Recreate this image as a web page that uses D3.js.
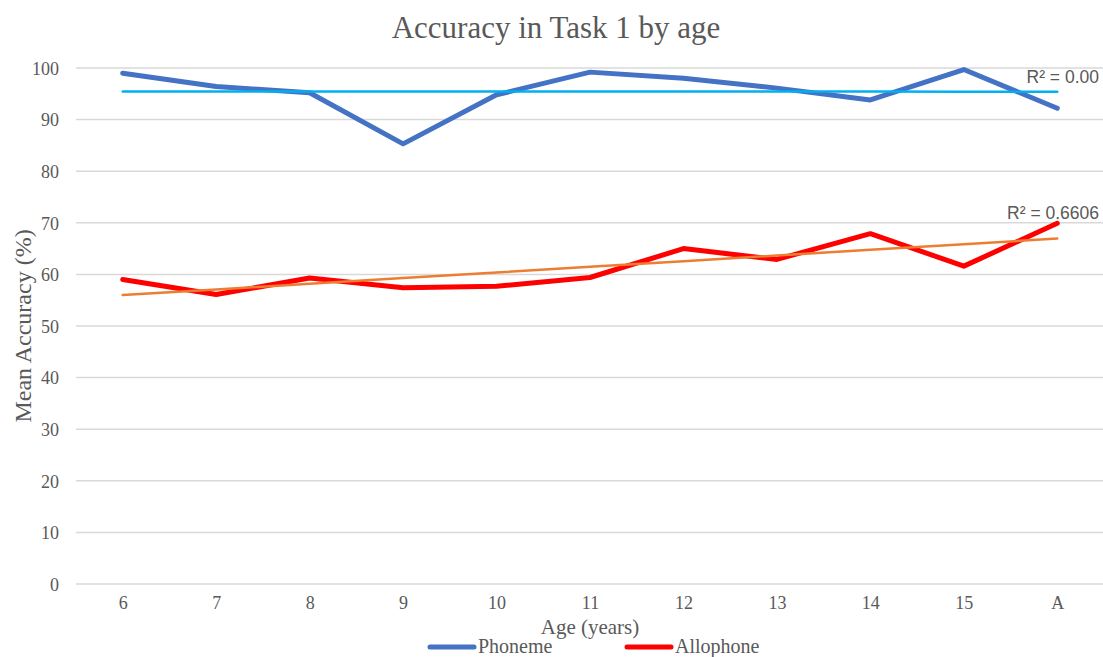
<!DOCTYPE html>
<html>
<head>
<meta charset="utf-8">
<script src="https://cdn.jsdelivr.net/npm/d3@7"></script>
<style>
  html, body { margin: 0; padding: 0; background: #fff; }
  svg { display: block; }
</style>
</head>
<body>
<svg id="chart" width="1103" height="657"></svg>
<script>
// Age groups (A = adults)
const ages = ["6", "7", "8", "9", "10", "11", "12", "13", "14", "15", "A"];
// Mean accuracy (%) per age group
const phoneme   = [99.0, 96.4, 95.2, 85.3, 94.8, 99.2, 98.0, 96.1, 93.8, 99.7, 92.2];
const allophone = [59.0, 56.1, 59.3, 57.4, 57.7, 59.4, 65.0, 62.9, 67.9, 61.6, 69.9];
const yTicks = [0, 10, 20, 30, 40, 50, 60, 70, 80, 90, 100];
const seriesNames = ["Phoneme", "Allophone"];
const r2Labels = ["R² = 0.00", "R² = 0.6606"];

(function draw() {
  const svg = d3.select("#chart");
  const plotLeft = 76, plotRight = 1104, plotTop = 68, plotBottom = 584;
  const grey = "#595959";
  const serif = "'Liberation Serif', 'Times New Roman', serif";
  const sans = "'Liberation Sans', Arial, sans-serif";

  const x = d3.scalePoint().domain(ages).range([plotLeft, plotRight]).padding(0.5);
  const y = d3.scaleLinear().domain([0, 100]).range([plotBottom, plotTop]);

  // Horizontal gridlines
  svg.append("g")
    .selectAll("line")
    .data(yTicks)
    .join("line")
    .attr("x1", plotLeft).attr("x2", plotRight)
    .attr("y1", d => y(d)).attr("y2", d => y(d))
    .attr("stroke", "#d9d9d9").attr("stroke-width", 1.5);

  // Y axis labels
  const yAxis = d3.axisLeft(y).tickValues(yTicks).tickSize(0).tickPadding(0);
  const gy = svg.append("g").attr("transform", `translate(${plotLeft - 17},0)`).call(yAxis);
  gy.select(".domain").remove();
  gy.selectAll("text")
    .attr("font-family", serif).attr("font-size", 18).attr("fill", grey)
    .attr("dy", "0.35em");

  // X axis labels
  const xAxis = d3.axisBottom(x).tickSize(0).tickPadding(0);
  const gx = svg.append("g").attr("transform", `translate(0,${plotBottom + 12})`).call(xAxis);
  gx.select(".domain").remove();
  gx.selectAll("text")
    .attr("font-family", serif).attr("font-size", 18).attr("fill", grey)
    .attr("dy", "0.71em");

  // Least-squares trend line over the category index
  function linearFit(vals) {
    const n = vals.length;
    const xs = d3.range(n);
    const mx = d3.mean(xs), my = d3.mean(vals);
    let sxy = 0, sxx = 0;
    xs.forEach((xi, i) => { sxy += (xi - mx) * (vals[i] - my); sxx += (xi - mx) ** 2; });
    const slope = sxy / sxx;
    const intercept = my - slope * mx;
    return xs.map(xi => intercept + slope * xi);
  }

  const line = d3.line()
    .x((d, i) => x(ages[i]))
    .y(d => y(d));

  const series = [
    { name: seriesNames[0], values: phoneme, color: "#4472C4", trend: "#00B0F0" },
    { name: seriesNames[1], values: allophone, color: "#FF0000", trend: "#ED7D31" }
  ];

  series.forEach(s => {
    svg.append("path")
      .datum(s.values)
      .attr("d", line)
      .attr("fill", "none")
      .attr("stroke", s.color)
      .attr("stroke-width", 5)
      .attr("stroke-linejoin", "round")
      .attr("stroke-linecap", "round");
  });

  series.forEach(s => {
    const fit = linearFit(s.values);
    svg.append("path")
      .datum(fit)
      .attr("d", line)
      .attr("fill", "none")
      .attr("stroke", s.trend)
      .attr("stroke-width", 2.5)
      .attr("stroke-linecap", "round");
  });

  // R² annotations
  svg.append("text")
    .attr("x", 1099).attr("y", y(phoneme[phoneme.length - 1]) - 25)
    .attr("text-anchor", "end")
    .attr("font-family", sans).attr("font-size", 17.5).attr("fill", grey)
    .text(r2Labels[0]);
  svg.append("text")
    .attr("x", 1099).attr("y", y(allophone[allophone.length - 1]) - 4)
    .attr("text-anchor", "end")
    .attr("font-family", sans).attr("font-size", 17.5).attr("fill", grey)
    .text(r2Labels[1]);

  // Title
  svg.append("text")
    .attr("x", 556).attr("y", 38)
    .attr("text-anchor", "middle")
    .attr("font-family", serif).attr("font-size", 31).attr("fill", grey)
    .text("Accuracy in Task 1 by age");

  // Axis titles
  svg.append("text")
    .attr("transform", `translate(31,${(plotTop + plotBottom) / 2}) rotate(-90)`)
    .attr("text-anchor", "middle")
    .attr("font-family", serif).attr("font-size", 24).attr("fill", grey)
    .text("Mean Accuracy (%)");

  svg.append("text")
    .attr("x", 590).attr("y", 634)
    .attr("text-anchor", "middle")
    .attr("font-family", serif).attr("font-size", 21).attr("fill", grey)
    .text("Age (years)");

  // Legend
  const legendX = [428, 625];
  series.forEach((s, i) => {
    const g = svg.append("g").attr("transform", `translate(${legendX[i]},647)`);
    g.append("line")
      .attr("x1", 2).attr("x2", 46).attr("y1", 0).attr("y2", 0)
      .attr("stroke", s.color).attr("stroke-width", 5).attr("stroke-linecap", "round");
    g.append("text")
      .attr("x", 50).attr("y", 6)
      .attr("font-family", serif).attr("font-size", 20).attr("fill", grey)
      .text(s.name);
  });
})();
</script>
</body>
</html>
